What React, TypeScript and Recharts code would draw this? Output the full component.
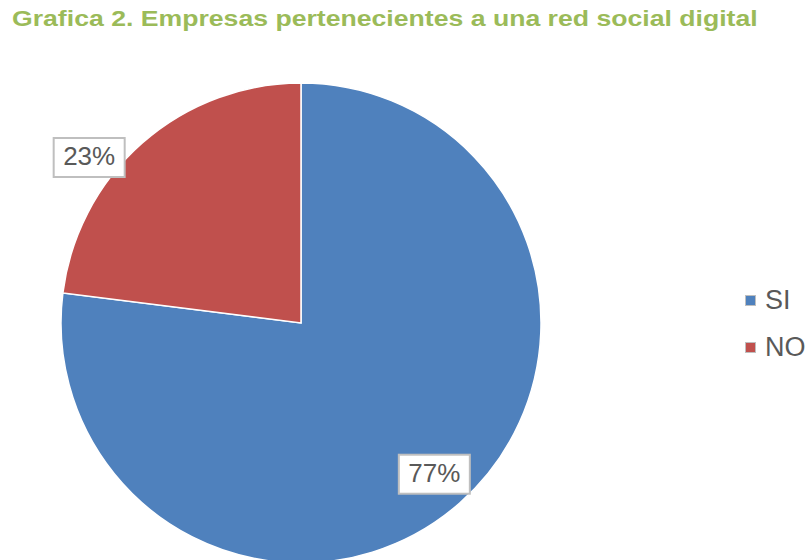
import React from 'react'
import { PieChart, Pie, Cell, Legend } from 'recharts'

const CATEGORIES = ['SI', 'NO']
const VALUES = [77, 23]
const COLORS = ['#4F81BD', '#C0504D']
// label placement per slice (fraction of radius, angle shift in degrees)
const LABEL_RADIUS = [0.84, 1.12]
const LABEL_SHIFT = [0, 10.6]

const data = CATEGORIES.map((name, i) => ({ name, value: VALUES[i] }))

const RAD = Math.PI / 180
const FONT = 'Liberation Sans, Arial, sans-serif'

const renderLabel = (props: any) => {
  const { cx, cy, midAngle, outerRadius, index, value } = props
  const a = (midAngle + LABEL_SHIFT[index]) * RAD
  const r = outerRadius * LABEL_RADIUS[index]
  const x = cx + r * Math.cos(a)
  const y = cy - r * Math.sin(a)
  const w = 71
  const h = 39
  return (
    <g>
      <rect x={x - w / 2} y={y - h / 2} width={w} height={h} fill="#fff" stroke="#BFBFBF" strokeWidth={2} />
      <text x={x} y={y + 1} textAnchor="middle" dominantBaseline="middle"
        fill="#595959" fontSize={26} fontFamily={FONT}>
        {value}%
      </text>
    </g>
  )
}

const LegendContent = () => (
  <div style={{ fontFamily: FONT, color: '#595959', fontSize: 27 }}>
    {CATEGORIES.map((c, i) => (
      <div key={c} style={{ display: 'flex', alignItems: 'center', height: 47 }}>
        <span style={{
          display: 'inline-block', width: 9, height: 9, background: COLORS[i],
          border: '1px solid #BFBFBF', marginRight: 9,
        }} />
        <span>{c}</span>
      </div>
    ))}
  </div>
)

export default function App() {
  return (
    <div style={{ position: 'absolute', left: 0, top: 0, width: 807, height: 560, background: '#fff', overflow: 'hidden' }}>
      <div style={{
        position: 'absolute', left: 12, top: 6, color: '#9BBB59', fontWeight: 'bold',
        fontSize: 22, fontFamily: FONT, whiteSpace: 'nowrap',
        transform: 'scaleX(1.21)', transformOrigin: 'left top',
      }}>
        Grafica 2. Empresas pertenecientes a una red social digital
      </div>
      <PieChart width={807} height={560} margin={{ top: 0, right: 0, bottom: 0, left: 0 }}>
        <Pie
          data={data}
          dataKey="value"
          nameKey="name"
          cx={301}
          cy={323}
          outerRadius={240}
          startAngle={90}
          endAngle={-270}
          stroke="#fff"
          strokeWidth={1.5}
          label={renderLabel}
          labelLine={false}
          isAnimationActive={false}
        >
          {data.map((_, i) => (
            <Cell key={i} fill={COLORS[i]} />
          ))}
        </Pie>
        <Legend content={<LegendContent />} wrapperStyle={{ left: 745, top: 277, width: 70 }} />
      </PieChart>
    </div>
  )
}
